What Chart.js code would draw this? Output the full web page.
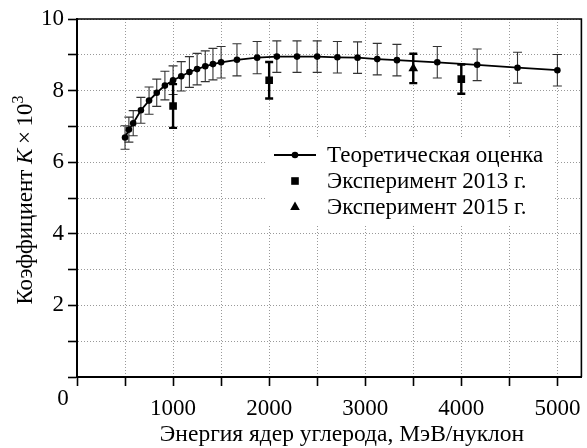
<!DOCTYPE html>
<html>
<head>
<meta charset="utf-8">
<script src="https://cdn.jsdelivr.net/npm/chart.js@4/dist/chart.umd.min.js"></script>
<style>
html, body { margin: 0; padding: 0; background: #fff; }
#wrap { width: 587px; height: 448px; }
</style>
</head>
<body>
<div id="wrap"><canvas id="chart" width="587" height="448"></canvas></div>
<script>
// theoretical estimate, K x 10^3 vs carbon energy (MeV/nucleon)
var theoryEnergy = [500, 540, 585, 665, 750, 830, 915, 1000, 1085, 1170, 1250, 1335, 1415, 1500,
    1665, 1875, 2080, 2290, 2500, 2710, 2920, 3125, 3330, 3750, 4165, 4585, 5000];
var theoryK = [6.69, 6.91, 7.09, 7.45, 7.72, 7.94, 8.14, 8.29, 8.40, 8.52, 8.60, 8.68, 8.74, 8.79,
    8.86, 8.92, 8.95, 8.95, 8.95, 8.93, 8.92, 8.88, 8.85, 8.79, 8.72, 8.64, 8.57];
var theoryErr = [0.33, 0.35, 0.35, 0.36, 0.38, 0.38, 0.40, 0.40, 0.41, 0.43, 0.44, 0.43, 0.44, 0.44,
    0.45, 0.45, 0.44, 0.44, 0.44, 0.44, 0.44, 0.44, 0.44, 0.44, 0.44, 0.43, 0.44];

// measurements
var exp2013Energy = [1000, 2000, 4000];
var exp2013K = [7.57, 8.29, 8.32];
var exp2013Err = [0.61, 0.51, 0.41];

var exp2015Energy = [3500];
var exp2015K = [8.62];
var exp2015Err = [0.41];

// tick marks and which of them get a number
var xTicks = [0, 500, 1000, 1500, 2000, 2500, 3000, 3500, 4000, 4500, 5000];
var xLabels = [1000, 2000, 3000, 4000, 5000];
var yTicks = [0, 1, 2, 3, 4, 5, 6, 7, 8, 9, 10];
var yLabels = [2, 4, 6, 8, 10];

var legendNames = ['Теоретическая оценка', 'Эксперимент 2013 г.', 'Эксперимент 2015 г.'];
var xTitle = 'Энергия ядер углерода, МэВ/нуклон';

var FONT = '"Liberation Serif", "Times New Roman", serif';

function points(xs, ys) {
    return xs.map(function (x, i) { return {x: x, y: ys[i]}; });
}

// error bars, frame, titles and legend
var decorations = {
    id: 'decorations',
    beforeDatasetsDraw: function (chart) {
        var ctx = chart.ctx;
        var yScale = chart.scales.y;
        chart.data.datasets.forEach(function (ds, i) {
            var meta = chart.getDatasetMeta(i);
            ctx.save();
            ctx.strokeStyle = ds.barColor;
            ctx.lineWidth = ds.barWidth;
            meta.data.forEach(function (pt, j) {
                var v = ds.data[j].y, e = ds.errors[j];
                var top = yScale.getPixelForValue(v + e);
                var bot = yScale.getPixelForValue(v - e);
                ctx.beginPath();
                ctx.moveTo(pt.x, top); ctx.lineTo(pt.x, bot);
                ctx.moveTo(pt.x - ds.capHalf, top); ctx.lineTo(pt.x + ds.capHalf, top);
                ctx.moveTo(pt.x - ds.capHalf, bot); ctx.lineTo(pt.x + ds.capHalf, bot);
                ctx.stroke();
            });
            ctx.restore();
        });
    },
    afterDraw: function (chart) {
        var ctx = chart.ctx;
        var a = chart.chartArea;
        ctx.save();

        // closing frame
        ctx.strokeStyle = '#000';
        ctx.lineWidth = 1.6;
        ctx.beginPath();
        ctx.moveTo(a.left, a.top); ctx.lineTo(a.right, a.top); ctx.lineTo(a.right, a.bottom);
        ctx.stroke();

        // shared origin label
        ctx.fillStyle = '#000';
        ctx.font = '23px ' + FONT;
        ctx.textAlign = 'center';
        ctx.textBaseline = 'middle';
        ctx.fillText('0', a.left - 14, a.bottom + 22);

        // x title
        ctx.font = '23.5px ' + FONT;
        ctx.textBaseline = 'alphabetic';
        ctx.fillText(xTitle, 342, 441);

        // y title with italic K and superscript
        var parts = [
            {t: 'Коэффициент ', f: '23px ' + FONT, dy: 0},
            {t: 'K', f: 'italic 23px ' + FONT, dy: 0},
            {t: '\u2009×\u200910', f: '23px ' + FONT, dy: 0},
            {t: '3', f: '16px ' + FONT, dy: -9}
        ];
        var total = 0;
        parts.forEach(function (p) { ctx.font = p.f; p.w = ctx.measureText(p.t).width; total += p.w; });
        ctx.translate(32, 200);
        ctx.rotate(-Math.PI / 2);
        ctx.textAlign = 'left';
        var cx = -total / 2;
        parts.forEach(function (p) {
            ctx.font = p.f;
            ctx.fillText(p.t, cx, p.dy);
            cx += p.w;
        });
        ctx.setTransform(1, 0, 0, 1, 0, 0);

        // legend
        ctx.fillStyle = '#fff';
        ctx.fillRect(267, 138, 286, 88);
        ctx.fillStyle = '#000';
        ctx.strokeStyle = '#000';
        var rows = [155, 181, 207];
        var sx = 295;
        ctx.lineWidth = 1.8;
        ctx.beginPath(); ctx.moveTo(sx - 21, rows[0]); ctx.lineTo(sx + 21, rows[0]); ctx.stroke();
        ctx.beginPath(); ctx.arc(sx, rows[0], 3.3, 0, Math.PI * 2); ctx.fill();
        ctx.fillRect(sx - 3.8, rows[1] - 3.8, 7.6, 7.6);
        ctx.beginPath();
        ctx.moveTo(sx, rows[2] - 5.5); ctx.lineTo(sx + 4.8, rows[2] + 3); ctx.lineTo(sx - 4.8, rows[2] + 3);
        ctx.closePath(); ctx.fill();
        ctx.font = '23px ' + FONT;
        ctx.textAlign = 'left';
        ctx.textBaseline = 'middle';
        legendNames.forEach(function (name, i) { ctx.fillText(name, 327, rows[i] + 1); });

        ctx.restore();
    }
};

var ctx = document.getElementById('chart');
var chart = new Chart(ctx, {
    type: 'line',
    data: {
        datasets: [{
            label: legendNames[0],
            data: points(theoryEnergy, theoryK),
            errors: theoryErr,
            barColor: '#333', barWidth: 1.1, capHalf: 4.5,
            borderColor: '#000',
            borderWidth: 1.8,
            pointRadius: 3.3,
            pointBorderWidth: 0,
            pointBackgroundColor: '#000',
            showLine: true,
            order: 2
        }, {
            label: legendNames[1],
            data: points(exp2013Energy, exp2013K),
            errors: exp2013Err,
            barColor: '#000', barWidth: 2.4, capHalf: 4,
            showLine: false,
            pointStyle: 'rect',
            pointRadius: 5.4,
            pointBorderWidth: 0,
            pointBackgroundColor: '#000',
            order: 1
        }, {
            label: legendNames[2],
            data: points(exp2015Energy, exp2015K),
            errors: exp2015Err,
            barColor: '#000', barWidth: 2.4, capHalf: 4,
            showLine: false,
            pointStyle: 'triangle',
            pointRadius: 5.6,
            pointBorderWidth: 0,
            pointBackgroundColor: '#000',
            order: 1
        }]
    },
    options: {
        responsive: false,
        animation: false,
        devicePixelRatio: 1,
        layout: { padding: { top: 19, right: 1, left: 0, bottom: 0 } },
        plugins: { legend: { display: false }, tooltip: { enabled: false } },
        scales: {
            x: {
                type: 'linear',
                min: 0,
                max: 5250,
                afterBuildTicks: function (s) { s.ticks = xTicks.map(function (v) { return {value: v}; }); },
                afterFit: function (s) { s.height = 71; s.paddingLeft = 0; s.paddingRight = 0; },
                border: { color: '#000', width: 2, dash: [1, 2] },
                grid: { color: '#999', lineWidth: 1, tickLength: 9, tickColor: '#000', tickWidth: 1.6 },
                ticks: {
                    autoSkip: false,
                    maxRotation: 0,
                    padding: 9,
                    color: '#000',
                    font: { family: FONT, size: 23 },
                    callback: function (v) { return xLabels.indexOf(v) >= 0 ? String(v) : ''; }
                }
            },
            y: {
                min: 0,
                max: 10,
                afterBuildTicks: function (s) { s.ticks = yTicks.map(function (v) { return {value: v}; }); },
                afterFit: function (s) { s.width = 77; s.paddingTop = 0; s.paddingBottom = 0; },
                border: { color: '#000', width: 2, dash: [1, 2] },
                grid: { color: '#999', lineWidth: 1, tickLength: 9, tickColor: '#000', tickWidth: 1.6 },
                ticks: {
                    autoSkip: false,
                    padding: 4,
                    color: '#000',
                    font: { family: FONT, size: 23 },
                    callback: function (v) { return yLabels.indexOf(v) >= 0 ? String(v) : ''; }
                }
            }
        }
    },
    plugins: [decorations]
});
</script>
</body>
</html>
